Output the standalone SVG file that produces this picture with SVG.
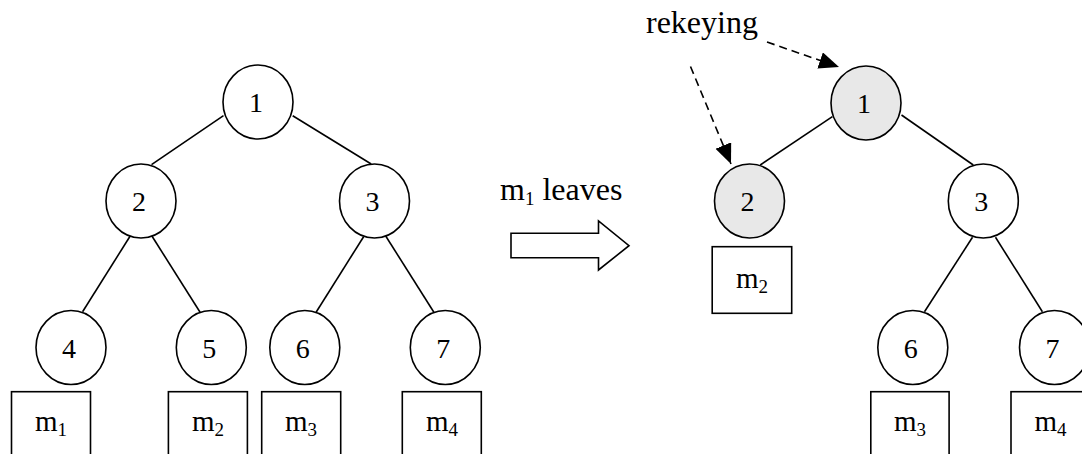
<svg xmlns="http://www.w3.org/2000/svg" width="1082" height="454" viewBox="0 0 1082 454">
  <style>
    .node { fill: #ffffff; stroke: #000000; stroke-width: 1.6; }
    .key { fill: #e8e8e8; stroke: #000000; stroke-width: 1.6; }
    .box { fill: #ffffff; stroke: #000000; stroke-width: 1.6; }
    .edge { stroke: #000000; stroke-width: 1.6; fill: none; }
    .dash { stroke: #000000; stroke-width: 1.6; fill: none; stroke-dasharray: 8 5; }
    text { font-family: "Liberation Serif", "Times New Roman", serif; fill: #000000; }
    .num { font-size: 28px; text-anchor: middle; }
    .lbl { font-size: 29px; text-anchor: middle; }
    .sub { font-size: 19px; }
    .cap { font-size: 32px; }
  </style>
  <defs>
    <marker id="head" markerUnits="userSpaceOnUse" markerWidth="22" markerHeight="18" refX="20" refY="8.5" orient="auto">
      <path d="M0,0 L20,8.5 L0,17 Z" fill="#000000"/>
    </marker>
  </defs>

  <rect width="1082" height="454" fill="#ffffff"/>

  <!-- connectors -->
  <g id="connectors">
    <!-- tree before the member leaves -->
    <line class="edge" x1="223.5" y1="115.7" x2="151.5" y2="164.7"/>
    <line class="edge" x1="292.7" y1="115.7" x2="371.2" y2="164"/>
    <line class="edge" x1="130.2" y1="236" x2="82.6" y2="311.7"/>
    <line class="edge" x1="151.9" y1="236" x2="200.1" y2="312.3"/>
    <line class="edge" x1="363.6" y1="236.7" x2="316.1" y2="312.3"/>
    <line class="edge" x1="385.7" y1="236" x2="433.9" y2="312.3"/>
    <!-- tree after the member leaves -->
    <line class="edge" x1="832.4" y1="116.7" x2="760.2" y2="165"/>
    <line class="edge" x1="901.5" y1="115" x2="973.3" y2="165"/>
    <line class="edge" x1="972.5" y1="237.3" x2="924.5" y2="311.7"/>
    <line class="edge" x1="995.5" y1="237.3" x2="1042.4" y2="311.7"/>
    <!-- rekeying pointers -->
    <line class="dash" x1="767" y1="42" x2="839" y2="67" marker-end="url(#head)"/>
    <line class="dash" x1="690.5" y1="66.5" x2="731" y2="164" marker-end="url(#head)"/>
  </g>

  <!-- left tree -->
  <g id="L1"><ellipse class="node" cx="258" cy="102" rx="35" ry="37"/><text class="num" x="256" y="112">1</text></g>
  <g id="L2"><ellipse class="node" cx="141" cy="201" rx="35" ry="37"/><text class="num" x="139" y="211">2</text></g>
  <g id="L3"><ellipse class="node" cx="374.5" cy="201" rx="35" ry="37"/><text class="num" x="372.5" y="211">3</text></g>
  <g id="L4"><ellipse class="node" cx="71" cy="347.5" rx="35" ry="37"/><text class="num" x="69" y="357.5">4</text></g>
  <g id="L5"><ellipse class="node" cx="211.3" cy="347.5" rx="35" ry="37"/><text class="num" x="209.3" y="357.5">5</text></g>
  <g id="L6"><ellipse class="node" cx="304.8" cy="347.5" rx="35" ry="37"/><text class="num" x="302.8" y="357.5">6</text></g>
  <g id="L7"><ellipse class="node" cx="445.3" cy="347.5" rx="35" ry="37"/><text class="num" x="443.3" y="357.5">7</text></g>

  <g id="Lm1"><rect class="box" x="11.5" y="391.7" width="79" height="80"/><text class="lbl" x="51" y="431">m<tspan class="sub" dy="5">1</tspan></text></g>
  <g id="Lm2"><rect class="box" x="168.4" y="391.7" width="79" height="80"/><text class="lbl" x="208" y="431">m<tspan class="sub" dy="5">2</tspan></text></g>
  <g id="Lm3"><rect class="box" x="261.7" y="391.7" width="79" height="80"/><text class="lbl" x="301" y="431">m<tspan class="sub" dy="5">3</tspan></text></g>
  <g id="Lm4"><rect class="box" x="402.3" y="391.7" width="79" height="80"/><text class="lbl" x="442" y="431">m<tspan class="sub" dy="5">4</tspan></text></g>

  <!-- transition -->
  <g id="leave">
    <text class="cap" x="500" y="200">m<tspan class="sub" dy="5">1</tspan><tspan dy="-5"> leaves</tspan></text>
    <polygon class="node" points="511,233.3 598.5,233.3 598.5,221 629,245.7 598.5,270 598.5,257.7 511,257.7"/>
  </g>

  <g id="rekeying"><text class="cap" x="646" y="33">rekeying</text></g>

  <!-- right tree -->
  <g id="R1"><ellipse class="key" cx="866" cy="103" rx="35" ry="37"/><text class="num" x="864" y="113">1</text></g>
  <g id="R2"><ellipse class="key" cx="749.5" cy="201" rx="35" ry="37"/><text class="num" x="747.5" y="211">2</text></g>
  <g id="R3"><ellipse class="node" cx="983.3" cy="201" rx="35" ry="37"/><text class="num" x="981.3" y="211">3</text></g>
  <g id="R6"><ellipse class="node" cx="912.8" cy="347.5" rx="35" ry="37"/><text class="num" x="910.8" y="357.5">6</text></g>
  <g id="R7"><ellipse class="node" cx="1054.5" cy="347.5" rx="35" ry="37"/><text class="num" x="1052.5" y="357.5">7</text></g>

  <g id="Rm2"><rect class="box" x="712.2" y="246.7" width="79.5" height="66.6"/><text class="lbl" x="752" y="288">m<tspan class="sub" dy="5">2</tspan></text></g>
  <g id="Rm3"><rect class="box" x="870.8" y="391.7" width="78.3" height="80"/><text class="lbl" x="910" y="431">m<tspan class="sub" dy="5">3</tspan></text></g>
  <g id="Rm4"><rect class="box" x="1011" y="391.7" width="79" height="80"/><text class="lbl" x="1050.5" y="431">m<tspan class="sub" dy="5">4</tspan></text></g>
</svg>
